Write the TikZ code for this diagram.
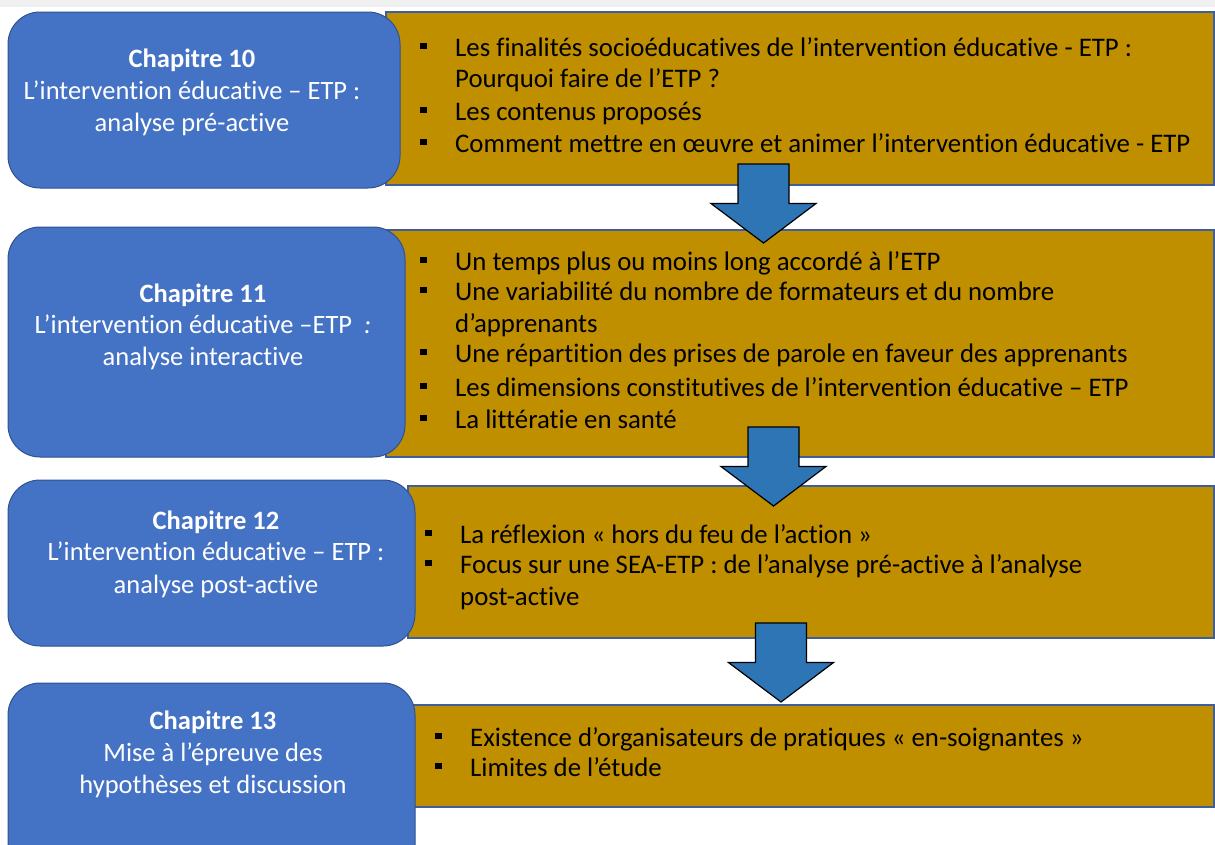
\documentclass[tikz,border=0pt]{standalone}
\usepackage{fontspec}
\setmainfont{Carlito}[Ligatures=NoCommon]
\definecolor{goldfill}{HTML}{BF8F00}
\definecolor{goldedge}{HTML}{3E5F9E}
\definecolor{bluefill}{HTML}{4472C4}
\definecolor{blueedge}{HTML}{2F528F}
\definecolor{arrowblue}{HTML}{2E75B6}
\newcommand{\bulsq}[1]{\makebox[#1][l]{\rule[7pt]{6.5pt}{6.5pt}}}
\tikzset{
  goldbox/.style={draw=goldedge, line width=1.3pt, fill=goldfill, inner sep=0pt, outer sep=0pt, anchor=north west},
  chapbox/.style={draw=blueedge, line width=1pt, fill=bluefill, rounded corners=32pt, inner sep=0pt, outer sep=0pt, anchor=north west},
  itemtxt/.style={anchor=base west, inner sep=0pt, font=\fontsize{26.8}{30}\selectfont, text=black},
  chaptxt/.style={anchor=base, inner sep=0pt, font=\fontsize{26.5}{32}\selectfont, text=white},
  arrowshape/.style={draw=black, line width=1.2pt, fill=arrowblue, line join=miter},
  downarrow/.pic={\draw[arrowshape] (-25.5,0) -- (25.5,0) -- (25.5,39.5) -- (52.5,39.5) -- (0,79) -- (-52.5,39.5) -- (-25.5,39.5) -- cycle;}
}
\begin{document}
\begin{tikzpicture}[x=1pt,y=-1pt]
\useasboundingbox (0,0) rectangle (1215,844);
\clip (0,0) rectangle (1215,844);
\fill[gray!12] (0,0) rectangle (1215,7);
% gold boxes
\node[goldbox, minimum width=828pt, minimum height=173pt] (g1) at (386,12) {};
\node[goldbox, minimum width=828pt, minimum height=227pt] (g2) at (386,230) {};
\node[goldbox, minimum width=806pt, minimum height=152pt] (g3) at (408,486) {};
\node[goldbox, minimum width=804pt, minimum height=102pt] (g4) at (410,705) {};
% chapter boxes
\node[chapbox, minimum width=392pt, minimum height=176pt] (b1) at (8,12) {};
\node[chapbox, minimum width=397pt, minimum height=230pt] (b2) at (8,227) {};
\node[chapbox, minimum width=407pt, minimum height=166pt] (b3) at (8,480) {};
\node[chapbox, minimum width=407pt, minimum height=200pt] (b4) at (8,683) {};
% chapter texts
\node[chaptxt] (c1a) at (192,67) {\bfseries Chapitre 10};
\node[chaptxt] (c1b) at (192,99) {L’intervention éducative – ETP :};
\node[chaptxt] (c1c) at (192,131) {analyse pré-active};
\node[chaptxt] (c2a) at (203,302) {\bfseries Chapitre 11};
\node[chaptxt] (c2b) at (203,333) {L’intervention éducative –ETP~~\textit{:}};
\node[chaptxt] (c2c) at (203,365) {analyse interactive};
\node[chaptxt] (c3a) at (216,529) {\bfseries Chapitre 12};
\node[chaptxt] (c3b) at (216,560) {L’intervention éducative – ETP :};
\node[chaptxt] (c3c) at (216,593) {analyse post-active};
\node[chaptxt] (c4a) at (213,729) {\bfseries Chapitre 13};
\node[chaptxt] (c4b) at (213,761) {Mise à l’épreuve des};
\node[chaptxt] (c4c) at (213,793) {hypothèses et discussion};
% items box 1
\node[itemtxt] (i1a) at (420,56) {\bulsq{35pt}Les finalités socioéducatives de l’intervention éducative - ETP :};
\node[itemtxt] (i1b) at (455,87) {Pourquoi faire de l’ETP ?};
\node[itemtxt] (i1c) at (420,120) {\bulsq{35pt}Les contenus proposés};
\node[itemtxt] (i1d) at (420,152) {\bulsq{35pt}Comment mettre en œuvre et animer l’intervention éducative - ETP};
% items box 2
\node[itemtxt] (i2a) at (420,270) {\bulsq{35pt}Un temps plus ou moins long accordé à l’ETP};
\node[itemtxt] (i2b) at (420,300) {\bulsq{35pt}Une variabilité du nombre de formateurs et du nombre};
\node[itemtxt] (i2c) at (455,332) {d’apprenants};
\node[itemtxt] (i2d) at (420,362) {\bulsq{35pt}Une répartition des prises de parole en faveur des apprenants};
\node[itemtxt] (i2e) at (420,396) {\bulsq{35pt}Les dimensions constitutives de l’intervention éducative – ETP};
\node[itemtxt] (i2f) at (420,428) {\bulsq{35pt}La littératie en santé};
% items box 3
\node[itemtxt] (i3a) at (425,543) {\bulsq{35pt}La réflexion « hors du feu de l’action »};
\node[itemtxt] (i3b) at (425,573) {\bulsq{35pt}Focus sur une SEA-ETP : de l’analyse pré-active à l’analyse};
\node[itemtxt] (i3c) at (460,605) {post-active};
% items box 4
\node[itemtxt] (i4a) at (435,746) {\bulsq{35pt}Existence d’organisateurs de pratiques « en-soignantes »};
\node[itemtxt] (i4b) at (435,776) {\bulsq{35pt}Limites de l’étude};
% arrows
\pic (a1) at (763.5,164) {downarrow};
\pic (a2) at (773.5,427) {downarrow};
\pic (a3) at (781,623) {downarrow};
\end{tikzpicture}
\end{document}
